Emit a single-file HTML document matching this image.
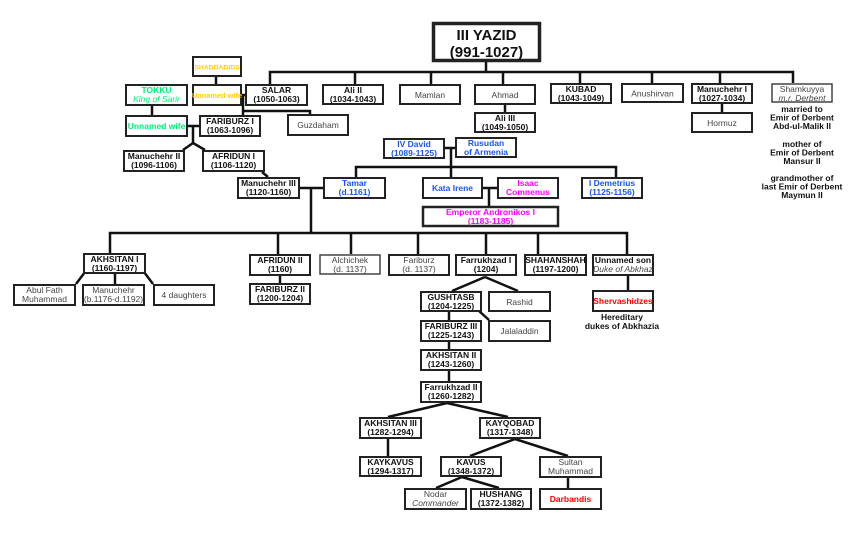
<!DOCTYPE html>
<html><head><meta charset="utf-8"><style>
html,body{margin:0;padding:0;background:#fff;}
svg{display:block;}
text{font-family:"Liberation Sans","DejaVu Sans",sans-serif;font-size:8.5px;text-anchor:middle;}
.b{font-weight:bold;fill:#111;}
.g{fill:#444;}
.bl{font-weight:bold;fill:#1a55f0;}
.mg{font-weight:bold;fill:#ff00ff;}
.gr{font-weight:bold;fill:#00ee77;}
.yl{font-weight:bold;fill:#ffd000;}
.rd{font-weight:bold;fill:#ff0000;}
.i{font-style:italic;}
rect{fill:#fff;stroke:#222;stroke-width:2;}
line,polyline{stroke:#111;stroke-width:2.5;fill:none;}
</style></head><body>
<svg width="850" height="539" viewBox="0 0 850 539" xmlns="http://www.w3.org/2000/svg">
<line x1="486" y1="62" x2="486" y2="72"/>
<polyline points="270,84 270,72 793,72 793,83"/>
<line x1="355" y1="72" x2="355" y2="84"/>
<line x1="431" y1="72" x2="431" y2="84"/>
<line x1="503" y1="72" x2="503" y2="84"/>
<line x1="580" y1="72" x2="580" y2="83"/>
<line x1="652" y1="72" x2="652" y2="83"/>
<line x1="720" y1="72" x2="720" y2="83"/>
<line x1="722" y1="104" x2="722" y2="112"/>
<line x1="505" y1="105" x2="505" y2="112"/>
<line x1="216" y1="77" x2="216" y2="84"/>
<line x1="242" y1="95" x2="245" y2="95"/>
<line x1="243" y1="94" x2="243" y2="115"/>
<polyline points="243,111 310,111 310,114"/>
<line x1="152" y1="106" x2="152" y2="115"/>
<line x1="188" y1="126" x2="199" y2="126"/>
<polyline points="193,126 193,143 183,150"/>
<line x1="193" y1="143" x2="205" y2="150"/>
<line x1="262" y1="172" x2="268" y2="177"/>
<line x1="445" y1="148" x2="455" y2="148"/>
<line x1="451" y1="148" x2="451" y2="177"/>
<polyline points="356,177 356,167 616,167 616,177"/>
<line x1="300" y1="188" x2="323" y2="188"/>
<line x1="483" y1="188" x2="497" y2="188"/>
<line x1="489" y1="188" x2="489" y2="206"/>
<line x1="311" y1="188" x2="311" y2="233"/>
<polyline points="110,253 110,233 627,233 627,254"/>
<line x1="278" y1="233" x2="278" y2="254"/>
<line x1="351" y1="233" x2="351" y2="254"/>
<line x1="418" y1="233" x2="418" y2="254"/>
<line x1="486" y1="233" x2="486" y2="254"/>
<line x1="538" y1="233" x2="538" y2="254"/>
<line x1="85" y1="272" x2="76" y2="284"/>
<line x1="115" y1="273" x2="115" y2="284"/>
<line x1="144" y1="272" x2="153" y2="284"/>
<line x1="280" y1="276" x2="280" y2="283"/>
<line x1="628" y1="276" x2="628" y2="290"/>
<line x1="485" y1="277" x2="452" y2="291"/>
<line x1="485" y1="277" x2="518" y2="291"/>
<line x1="479" y1="311" x2="489" y2="320"/>
<line x1="449" y1="312" x2="449" y2="320"/>
<line x1="449" y1="342" x2="449" y2="349"/>
<line x1="449" y1="371" x2="449" y2="381"/>
<line x1="447" y1="403" x2="388" y2="417"/>
<line x1="447" y1="403" x2="508" y2="417"/>
<line x1="388" y1="439" x2="388" y2="456"/>
<line x1="515" y1="439" x2="470" y2="456"/>
<line x1="515" y1="439" x2="568" y2="456"/>
<line x1="462" y1="477" x2="436" y2="488"/>
<line x1="462" y1="477" x2="499" y2="488"/>
<line x1="568" y1="478" x2="568" y2="488"/>

<rect x="433.5" y="23.5" width="106" height="37" style="stroke-width:3.5"/>
<text x="486.5" y="40" class="b" style="font-size:15px">III YAZID</text>
<text x="486.5" y="57" class="b" style="font-size:15px">(991-1027)</text>

<rect x="246" y="85" width="61" height="20"/><text x="276.5" y="93" class="b">SALAR</text><text x="276.5" y="102" class="b">(1050-1063)</text>
<rect x="323" y="85" width="60" height="19"/><text x="353" y="93" class="b">Ali II</text><text x="353" y="102" class="b">(1034-1043)</text>
<rect x="400" y="85" width="60" height="19"/><text x="430" y="98" class="g">Mamlan</text>
<rect x="475" y="85" width="60" height="19"/><text x="505" y="98" class="g">Ahmad</text>
<rect x="551" y="84" width="60" height="19"/><text x="581" y="92" class="b">KUBAD</text><text x="581" y="101" class="b">(1043-1049)</text>
<rect x="622" y="84" width="61" height="18"/><text x="652.5" y="96.5" class="g">Anushirvan</text>
<rect x="692" y="84" width="60" height="19"/><text x="722" y="92" class="b">Manuchehr I</text><text x="722" y="101" class="b">(1027-1034)</text>
<rect x="772" y="84" width="60" height="18" style="stroke:#444;stroke-width:1.5"/><text x="802" y="92" class="g">Shamkuyya</text><text x="802" y="101" class="g i">m.r. Derbent</text>
<text x="802" y="112" class="b">married to</text><text x="802" y="120.5" class="b">Emir of Derbent</text><text x="802" y="129" class="b">Abd-ul-Malik II</text>
<text x="802" y="147" class="b">mother of</text><text x="802" y="155.5" class="b">Emir of Derbent</text><text x="802" y="164" class="b">Mansur II</text>
<text x="802" y="181" class="b">grandmother of</text><text x="802" y="189.5" class="b">last Emir of Derbent</text><text x="802" y="198" class="b">Maymun II</text>

<rect x="692" y="113" width="60" height="19"/><text x="722" y="126" class="g">Hormuz</text>
<rect x="475" y="113" width="60" height="19"/><text x="505" y="121" class="b">Ali III</text><text x="505" y="130" class="b">(1049-1050)</text>

<rect x="193" y="57" width="48" height="19"/><text x="217" y="69.5" class="yl" style="font-size:6.8px">SHADDADIDS</text>
<rect x="193" y="85" width="48" height="20"/><text x="217" y="98" class="yl" style="font-size:7.4px">Unnamed wife</text>
<rect x="126" y="85" width="61" height="20"/><text x="156.5" y="93" class="gr">TOKKU</text><text x="156.5" y="102" class="gr i" style="font-weight:normal">King of Sarir</text>
<rect x="126" y="116" width="61" height="20"/><text x="156.5" y="129" class="gr">Unnamed wife</text>
<rect x="200" y="116" width="60" height="20"/><text x="230" y="124" class="b">FARIBURZ I</text><text x="230" y="133" class="b">(1063-1096)</text>
<rect x="288" y="115" width="60" height="20"/><text x="318" y="128" class="g">Guzdaham</text>
<rect x="124" y="151" width="60" height="20"/><text x="154" y="159" class="b">Manuchehr II</text><text x="154" y="168" class="b">(1096-1106)</text>
<rect x="203" y="151" width="61" height="20"/><text x="233.5" y="159" class="b">AFRIDUN I</text><text x="233.5" y="168" class="b">(1106-1120)</text>
<rect x="238" y="178" width="61" height="20"/><text x="268.5" y="186" class="b">Manuchehr III</text><text x="268.5" y="195" class="b">(1120-1160)</text>

<rect x="384" y="139" width="60" height="19"/><text x="414" y="147" class="bl">IV David</text><text x="414" y="156" class="bl">(1089-1125)</text>
<rect x="456" y="138" width="60" height="19"/><text x="486" y="146" class="bl">Rusudan</text><text x="486" y="155" class="bl">of Armenia</text>
<rect x="324" y="178" width="61" height="20"/><text x="354.5" y="186" class="bl">Tamar</text><text x="354.5" y="195" class="bl">(d.1161)</text>
<rect x="423" y="178" width="59" height="20"/><text x="452.5" y="191" class="bl">Kata Irene</text>
<rect x="498" y="178" width="60" height="20"/><text x="528" y="186" class="mg">Isaac</text><text x="528" y="195" class="mg">Comnenus</text>
<rect x="582" y="178" width="60" height="20"/><text x="612" y="186" class="bl">I Demetrius</text><text x="612" y="195" class="bl">(1125-1156)</text>
<rect x="423" y="207" width="135" height="19" style="stroke-width:2.5"/><text x="490.5" y="215" class="mg">Emperor Andronikos I</text><text x="490.5" y="224" class="mg">(1183-1185)</text>

<rect x="84" y="254" width="61" height="19"/><text x="114.5" y="262" class="b">AKHSITAN I</text><text x="114.5" y="271" class="b">(1160-1197)</text>
<rect x="14" y="285" width="61" height="20"/><text x="44.5" y="293" class="g">Abul Fath</text><text x="44.5" y="302" class="g">Muhammad</text>
<rect x="83" y="285" width="61" height="20"/><text x="113.5" y="293" class="g">Manuchehr</text><text x="113.5" y="302" class="g">(b.1176-d.1192)</text>
<rect x="154" y="285" width="60" height="20"/><text x="184" y="298" class="g">4 daughters</text>
<rect x="250" y="255" width="60" height="20"/><text x="280" y="263" class="b">AFRIDUN II</text><text x="280" y="272" class="b">(1160)</text>
<rect x="250" y="284" width="60" height="20"/><text x="280" y="292" class="b">FARIBURZ II</text><text x="280" y="301" class="b">(1200-1204)</text>
<rect x="320" y="255" width="60" height="19" style="stroke:#444;stroke-width:1.5"/><text x="350" y="263" class="g">Alchichek</text><text x="350" y="272" class="g">(d. 1137)</text>
<rect x="389" y="255" width="60" height="20"/><text x="419" y="263" class="g">Fariburz</text><text x="419" y="272" class="g">(d. 1137)</text>
<rect x="456" y="255" width="60" height="20"/><text x="486" y="263" class="b">Farrukhzad I</text><text x="486" y="272" class="b">(1204)</text>
<rect x="525" y="255" width="61" height="20"/><text x="555.5" y="263" class="b">SHAHANSHAH</text><text x="555.5" y="272" class="b">(1197-1200)</text>
<rect x="593" y="255" width="60" height="20"/><text x="623" y="263" class="b">Unnamed son</text><text x="623" y="272" class="g i">Duke of Abkhaz</text>
<rect x="593" y="291" width="60" height="20"/><text x="623" y="304" class="rd">Shervashidzes</text>
<text x="622" y="320" class="b">Hereditary</text><text x="622" y="329" class="b">dukes of Abkhazia</text>

<rect x="421" y="292" width="60" height="19"/><text x="451" y="300" class="b">GUSHTASB</text><text x="451" y="309" class="b">(1204-1225)</text>
<rect x="489" y="292" width="61" height="19"/><text x="519.5" y="305" class="g">Rashid</text>
<rect x="421" y="321" width="60" height="20"/><text x="451" y="329" class="b">FARIBURZ III</text><text x="451" y="338" class="b">(1225-1243)</text>
<rect x="489" y="321" width="61" height="20"/><text x="519.5" y="334" class="g">Jalaladdin</text>
<rect x="421" y="350" width="60" height="20"/><text x="451" y="358" class="b">AKHSITAN II</text><text x="451" y="367" class="b">(1243-1260)</text>
<rect x="421" y="382" width="60" height="20"/><text x="451" y="390" class="b">Farrukhzad II</text><text x="451" y="399" class="b">(1260-1282)</text>
<rect x="360" y="418" width="61" height="20"/><text x="390.5" y="426" class="b">AKHSITAN III</text><text x="390.5" y="435" class="b">(1282-1294)</text>
<rect x="480" y="418" width="60" height="20"/><text x="510" y="426" class="b">KAYQOBAD</text><text x="510" y="435" class="b">(1317-1348)</text>
<rect x="360" y="457" width="61" height="19"/><text x="390.5" y="465" class="b">KAYKAVUS</text><text x="390.5" y="474" class="b">(1294-1317)</text>
<rect x="441" y="457" width="60" height="19"/><text x="471" y="465" class="b">KAVUS</text><text x="471" y="474" class="b">(1348-1372)</text>
<rect x="540" y="457" width="61" height="20"/><text x="570.5" y="465" class="g">Sultan</text><text x="570.5" y="474" class="g">Muhammad</text>
<rect x="405" y="489" width="61" height="20"/><text x="435.5" y="497" class="g">Nodar</text><text x="435.5" y="506" class="g i">Commander</text>
<rect x="471" y="489" width="60" height="20"/><text x="501" y="497" class="b">HUSHANG</text><text x="501" y="506" class="b">(1372-1382)</text>
<rect x="540" y="489" width="61" height="20"/><text x="570.5" y="502" class="rd">Darbandis</text>
</svg>
</body></html>
